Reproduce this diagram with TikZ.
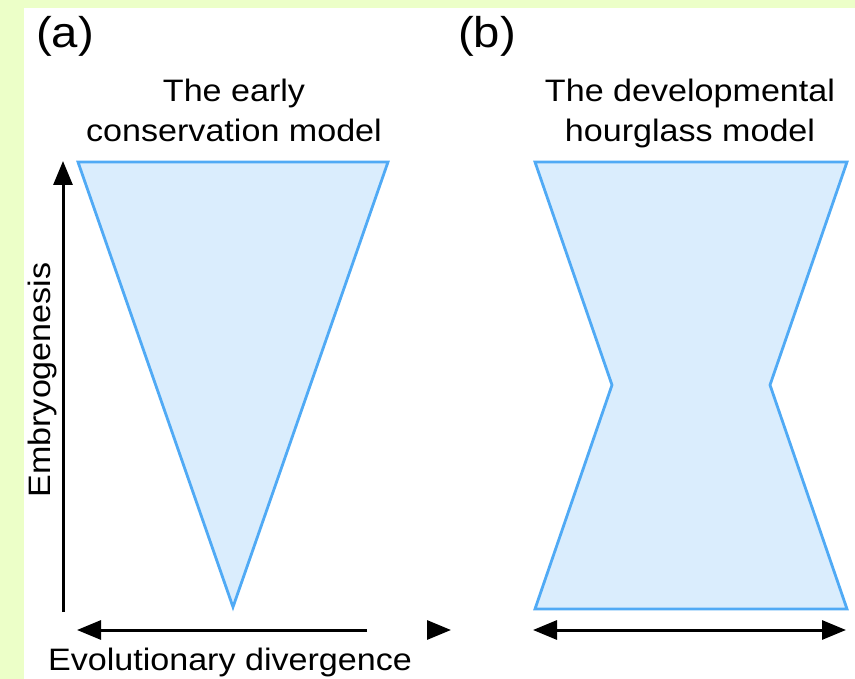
\documentclass[tikz,border=0pt]{standalone}
\usepackage{fontspec}
\setmainfont[FakeStretch=1.1]{Liberation Sans}
\usetikzlibrary{arrows.meta}
\definecolor{pagegreen}{RGB}{236,255,200}
\definecolor{conefill}{RGB}{218,237,253}
\definecolor{coneline}{RGB}{80,170,245}
\begin{document}
\begin{tikzpicture}[x=1pt,y=-1pt,
    axis/.style={line width=3pt,-{Triangle[length=24pt,width=19pt]}},
    twoway/.style={line width=3pt,{Triangle[length=24pt,width=19pt]}-{Triangle[length=24pt,width=19pt]}},
    cone/.style={fill=conefill,draw=coneline,line width=2.8pt},
    lbl/.style={font=\fontsize{31}{40}\selectfont,inner sep=0pt,anchor=base,align=center},
    panel/.style={font=\fontsize{43}{48}\selectfont,inner sep=0pt,anchor=base}]
        \useasboundingbox (0,0) rectangle (855,679);
        \fill[pagegreen] (0,0) rectangle (855,679);
        \fill[white] (24,8) rectangle (855,679);
        % (a) early conservation
        \node[panel] (pa) at (65,48) {(a)};
        \node[lbl] (ta) at (234,142) {The early\\conservation model};
        \draw[cone] (78,162) -- (388,162) -- (233,607) -- cycle;
        \coordinate (embBot) at (63,612);
        \coordinate (embTop) at (63,161);
        \draw[axis] (embBot) -- (embTop);
        \node[lbl,rotate=90] (emb) at (50,380) {Embryogenesis};
        \coordinate (divR) at (367,630);
        \coordinate (divL) at (77,630);
        \draw[axis] (divR) -- (divL);
        \coordinate (stubL) at (427,630);
        \coordinate (stubR) at (451,630);
        \draw[axis] (stubL) -- (stubR);
        \node[lbl] (div) at (230,670) {Evolutionary divergence};
        % (b) hourglass
        \node[panel] (pb) at (487,48) {(b)};
        \node[lbl] (tb) at (690,142) {The developmental\\hourglass model};
        \draw[cone] (535,162) -- (847,162) -- (770,385) -- (847,609)
            -- (535,609) -- (612,385) -- cycle;
        \coordinate (hgL) at (533,630);
        \coordinate (hgR) at (846,630);
        \draw[twoway] (hgL) -- (hgR);
\end{tikzpicture}
\end{document}
